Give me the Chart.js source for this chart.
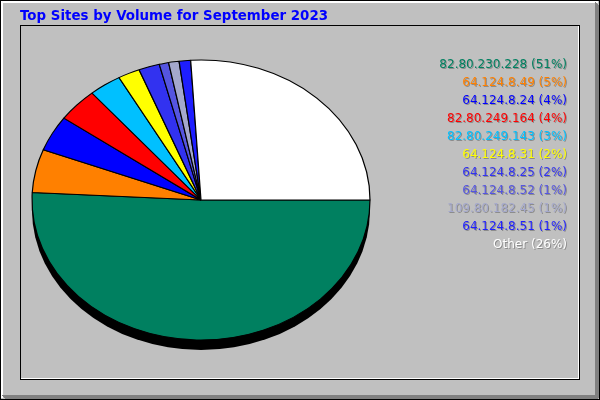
<!DOCTYPE html>
<html>
<head>
<meta charset="utf-8">
<script src="https://cdn.jsdelivr.net/npm/chart.js@4"></script>
<style>
html,body{margin:0;padding:0;background:#C0C0C0;}
#c{display:block;}
</style>
</head>
<body>
<canvas id="c" width="600" height="400"></canvas>
<script>
const chartTitle = "Top Sites by Volume for September 2023";
const siteLabels = ["82.80.230.228","64.124.8.49","64.124.8.24","82.80.249.164","82.80.249.143","64.124.8.31","64.124.8.25","64.124.8.52","109.80.182.45","64.124.8.51","Other"];
const siteValues = [50.9, 5.0, 4.1, 3.9, 3.1, 2.1, 2.0, 0.9, 1.0, 1.1, 26.0];
const sliceColors = ["#008060","#FF8000","#0000FF","#FF0000","#00C0FF","#FFFF00","#3232F0","#5555E0","#A4A8CC","#1E1EFF","#FFFFFF"];
const textColors  = ["#008060","#FF8000","#0000FF","#FF0000","#00C0FF","#FFFF00","#3232F0","#5555E0","#A4A8CC","#1E1EFF","#FFFFFF"];

const Y_RATIO = 140/169;
const DEPTH = 10;

const framePlugin = {
  id:'frame',
  beforeDraw(chart){
    const ctx = chart.ctx;
    ctx.save();
    ctx.fillStyle = '#C0C0C0';
    ctx.fillRect(0,0,600,400);
    ctx.fillStyle = '#000000';
    ctx.fillRect(0,0,600,1); ctx.fillRect(0,0,1,400);
    ctx.fillRect(599,0,1,400); ctx.fillRect(0,399,600,1);
    ctx.fillStyle = '#FFFFFF';
    ctx.fillRect(1,1,597,2); ctx.fillRect(1,1,2,397);
    ctx.fillStyle = '#808080';
    for(let i=0;i<4;i++){
      ctx.fillRect(595+i,1+i+1,1,397-i-1);
      ctx.fillRect(1+i+1,395+i,597-i-1,1);
    }
    ctx.fillStyle = '#000000';
    ctx.fillRect(20,25,560,1); ctx.fillRect(20,25,1,355);
    ctx.fillRect(579,25,1,355); ctx.fillRect(20,379,560,1);
    ctx.fillStyle = '#FFFFFF';
    ctx.fillRect(578,26,1,353); ctx.fillRect(21,378,558,1);
    ctx.restore();
  },
  beforeDatasetsDraw(chart){
    const ctx = chart.ctx;
    const arc = chart.getDatasetMeta(0).data[0];
    const cx = arc.x, cy = arc.y, r = arc.outerRadius;
    ctx.save();
    ctx.fillStyle = '#000000';
    ctx.beginPath();
    ctx.ellipse(cx, cy+DEPTH, r, r*Y_RATIO, 0, 0, Math.PI*2);
    ctx.fill();
    ctx.restore();
    ctx.save();
    ctx.translate(0, cy);
    ctx.scale(1, Y_RATIO);
    ctx.translate(0, -cy);
  },
  afterDatasetsDraw(chart){
    chart.ctx.restore();
  },
  afterDraw(chart){
    const ctx = chart.ctx;
    ctx.save();
    ctx.font = 'bold 13.4px "DejaVu Sans"';
    ctx.textAlign = 'left';
    ctx.textBaseline = 'alphabetic';
    ctx.fillStyle = '#0000FF';
    ctx.fillText(chartTitle, 20, 20);
    const vals = chart.data.datasets[0].data;
    const total = vals.reduce((a,b)=>a+b,0);
    ctx.font = '12px "DejaVu Sans"';
    ctx.textAlign = 'right';
    chart.data.labels.forEach((lab,i)=>{
      const txt = lab + ' (' + Math.round(vals[i]/total*100) + '%)';
      const y = 68 + 18*i;
      ctx.fillStyle = '#8C8C8C';
      ctx.fillText(txt, 568, y+1);
      ctx.fillStyle = textColors[i];
      ctx.fillText(txt, 567, y);
    });
    ctx.restore();
  }
};

new Chart(document.getElementById('c'), {
  type:'pie',
  data:{
    labels: siteLabels,
    datasets:[{
      data: siteValues,
      backgroundColor: sliceColors,
      borderColor:'#000000',
      borderWidth:1.2,
      borderAlign:'center',
      radius:169,
      clip:false
    }]
  },
  options:{
    responsive:false,
    animation:false,
    events:[],
    rotation:90,
    layout:{padding:{left:32,right:230,top:31,bottom:31}},
    plugins:{legend:{display:false},title:{display:false},tooltip:{enabled:false}}
  },
  plugins:[framePlugin]
});
</script>
</body>
</html>
